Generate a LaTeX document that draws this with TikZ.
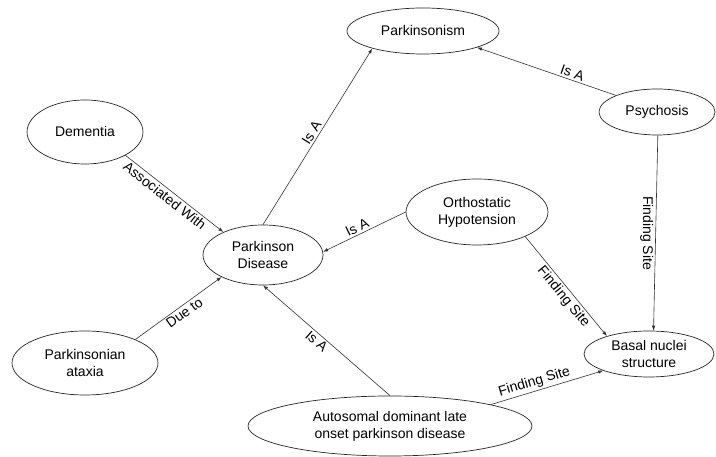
\documentclass[tikz,border=0pt]{standalone}
\usepackage{fontspec}
\setmainfont{Liberation Sans}
\usetikzlibrary{shapes.geometric,arrows.meta}
\begin{document}
\begin{tikzpicture}[x=1pt,y=1pt,
  concept/.style={draw=black!85, ellipse, inner sep=0pt, align=center,
    font=\fontsize{14}{17}\selectfont, line width=0.7pt},
  rel/.style={draw=black!80, line width=0.6pt, -{Latex[length=5pt,width=3.5pt]}},
  lab/.style={font=\fontsize{14}{16}\selectfont, sloped, inner sep=2pt},
  vlab/.style={font=\fontsize{14}{16}\selectfont, inner sep=2pt}]
\useasboundingbox (0,0) rectangle (716,457);

\node[concept, minimum width=152, minimum height=46] (pism) at (423,426) {Parkinsonism};
\node[concept, minimum width=116, minimum height=46] (psy) at (657,345) {Psychosis};
\node[concept, minimum width=116, minimum height=64] (dem) at (85,325) {Dementia};
\node[concept, minimum width=120, minimum height=60] (pd) at (263,202) {Parkinson\\Disease};
\node[concept, minimum width=142, minimum height=66] (oh) at (477,245) {Orthostatic\\Hypotension};
\node[concept, minimum width=130, minimum height=46] (bas) at (649,103) {Basal nuclei\\structure};
\node[concept, minimum width=146, minimum height=64] (pa) at (85,94) {Parkinsonian\\ataxia};
\node[concept, minimum width=284, minimum height=60] (auto) at (390,31) {Autosomal dominant late\\onset parkinson disease};

\draw[rel] (pd.90) -- node[lab, above, pos=.5] {Is A} (pism.199);
\draw[rel] (psy.158) -- node[lab, above, pos=.33] {Is A} (pism.343);
\draw[rel] (dem.330) -- node[lab, below, pos=.45] {Associated With} (pd.150);
\draw[rel] (oh.180) -- node[lab, above, pos=.55] {Is A} (pd.3);
\draw[rel] (pa.25) -- node[lab, below, pos=.52] {Due to} (pd.208);
\draw[rel] (auto.90) -- node[lab, below, pos=.54] {Is A} (pd.270);
\draw[rel] (oh.333) -- node[lab, below, pos=.55] {Finding Site} (bas.157);
\draw[rel] (psy.272) -- node[vlab, rotate=-90, anchor=north, pos=.5] {Finding Site} (bas.79);
\draw[rel] (auto.12.6) -- node[lab, above, pos=.41] {Finding Site} (bas.200);
\end{tikzpicture}
\end{document}
